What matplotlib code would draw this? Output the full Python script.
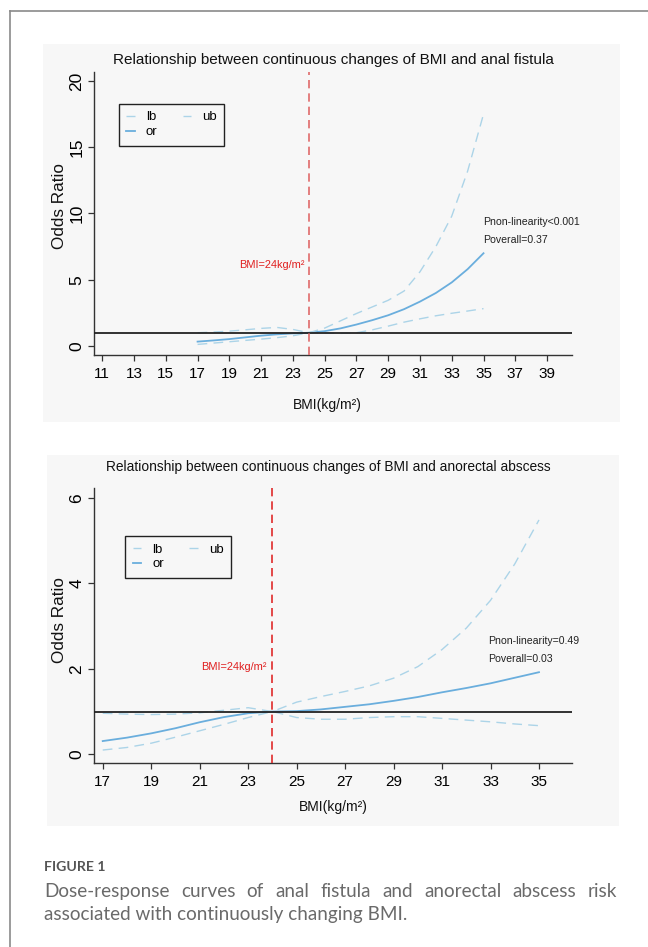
import matplotlib
matplotlib.use("Agg")
import matplotlib.pyplot as plt
from matplotlib.patches import Rectangle
from matplotlib.lines import Line2D

# ---------------- data ----------------
bmi = [17, 18, 19, 20, 21, 22, 23, 24, 25, 26, 27, 28, 29, 30, 31, 32, 33, 34, 35]

fistula_or = [0.33, 0.42, 0.52, 0.65, 0.78, 0.88, 0.95, 1.00, 1.12, 1.33, 1.62, 1.95,
              2.32, 2.78, 3.35, 4.00, 4.80, 5.80, 7.00]
fistula_ub = [1.00, 1.05, 1.12, 1.22, 1.33, 1.40, 1.25, 1.00, 1.35, 1.90, 2.45, 2.95,
              3.45, 4.15, 5.60, 7.50, 9.80, 13.2, 17.5]
fistula_lb = [0.12, 0.22, 0.32, 0.42, 0.52, 0.63, 0.77, 1.00, 0.98, 0.95, 1.00, 1.22,
              1.50, 1.80, 2.05, 2.28, 2.47, 2.64, 2.82]

abscess_or = [0.31, 0.39, 0.49, 0.61, 0.75, 0.87, 0.96, 1.00, 1.01, 1.05, 1.11, 1.17,
              1.25, 1.34, 1.45, 1.55, 1.66, 1.79, 1.92]
abscess_ub = [0.96, 0.94, 0.93, 0.94, 0.97, 1.03, 1.09, 1.00, 1.22, 1.35, 1.47, 1.60,
              1.78, 2.05, 2.45, 2.95, 3.60, 4.45, 5.48]
abscess_lb = [0.10, 0.16, 0.26, 0.40, 0.55, 0.70, 0.86, 1.00, 0.86, 0.82, 0.82, 0.86,
              0.88, 0.88, 0.84, 0.80, 0.76, 0.71, 0.67]

xticks1 = list(range(11, 40, 2))
yticks1 = [0, 5, 10, 15, 20]
xticks2 = list(range(17, 36, 2))
yticks2 = [0, 2, 4, 6]

titles = ["Relationship between continuous changes of BMI and anal fistula",
          "Relationship between continuous changes of BMI and anorectal abscess"]
p_texts = [["Pnon-linearity<0.001", "Poverall=0.37"],
           ["Pnon-linearity=0.49", "Poverall=0.03"]]
cut_label = "BMI=24kg/m\u00b2"
xlabel = "BMI(kg/m\u00b2)"
ylabel = "Odds Ratio"
fig_label = "FIGURE 1"
caption1 = "Dose-response curves of anal fistula and anorectal abscess risk"
caption2 = "associated with continuously changing BMI."

# ---------------- style ----------------
W, H = 648, 947
FONT = ["Liberation Sans", "DejaVu Sans"]
plt.rcParams["font.family"] = FONT
BG = "#f7f7f7"
C_OR = "#6aaedd"
C_CI = "#acd4e8"

fig = plt.figure(figsize=(W / 100, H / 100), dpi=100)
fig.patch.set_facecolor("white")

def fx(px):
    return px / W

def fy(py):
    return 1 - py / H

# page border (left and top)
fig.add_artist(Line2D([fx(9.5), fx(9.5)], [fy(11), 0], color="#8a8a8a", lw=1.2))
fig.add_artist(Line2D([fx(9.5), 1], [fy(11), fy(11)], color="#8a8a8a", lw=1.2))

# panel backgrounds
fig.add_artist(Rectangle((fx(43), fy(422)), fx(620) - fx(43), fy(44) - fy(422),
                         transform=fig.transFigure, facecolor=BG, edgecolor="none", zorder=0))
fig.add_artist(Rectangle((fx(47), fy(826)), fx(619) - fx(47), fy(455) - fy(826),
                         transform=fig.transFigure, facecolor=BG, edgecolor="none", zorder=0))

panels = [
    dict(box=(94, 72, 572, 355), xlim=(10.48, 40.57), ylim=(-0.68, 20.68),
         xticks=xticks1, yticks=yticks1, orv=fistula_or, ub=fistula_ub, lb=fistula_lb,
         title=titles[0], title_size=11, title_xy=(333, 60), xlabel_xy=(327, 405),
         ylabel_xy=(59, 206), cut_xy=(23.75, 6.1), p_xy=(34.95, 9.38, 8.0),
         leg=(0.052, 0.887), red="#e06a6a"),
    dict(box=(94, 488.3, 571.7, 763.3), xlim=(16.64, 36.35), ylim=(-0.21, 6.22),
         xticks=xticks2, yticks=yticks2, orv=abscess_or, ub=abscess_ub, lb=abscess_lb,
         title=titles[1], title_size=9.95, title_xy=(328, 467), xlabel_xy=(333, 807),
         ylabel_xy=(59, 620), cut_xy=(23.78, 2.04), p_xy=(32.9, 2.65, 2.22),
         leg=(0.0655, 0.8265), red="#e02a2a"),
]

for i, p in enumerate(panels):
    x0, y0, x1, y1 = p["box"]
    ax = fig.add_axes([fx(x0), fy(y1), fx(x1) - fx(x0), fy(y0) - fy(y1)])
    ax.set_facecolor(BG)
    ax.set_xlim(*p["xlim"])
    ax.set_ylim(*p["ylim"])
    for s in ["top", "right"]:
        ax.spines[s].set_visible(False)
    for s in ["left", "bottom"]:
        ax.spines[s].set_color("#333333")
        ax.spines[s].set_linewidth(1.0)
    ax.set_xticks(p["xticks"])
    ax.set_yticks(p["yticks"])
    ax.tick_params(axis="both", direction="out", length=4, width=0.9, color="#333333")
    ax.tick_params(axis="x", labelsize=11, pad=4.5)
    ax.tick_params(axis="y", labelsize=12.5, pad=3)
    for lab in ax.get_yticklabels():
        lab.set_rotation(90)
        lab.set_va("center")

    l_lb, = ax.plot(bmi, p["lb"], color=C_CI, lw=1.0, dashes=(7, 4.5), label="lb")
    l_or, = ax.plot(bmi, p["orv"], color=C_OR, lw=1.3, label="or")
    l_ub, = ax.plot(bmi, p["ub"], color=C_CI, lw=1.0, dashes=(7, 4.5), label="ub")
    ax.axhline(1, color="#222222", lw=1.3, zorder=3)
    ax.axvline(24, color=p["red"], lw=1.2, dashes=(5, 3), zorder=4)

    ax.text(p["cut_xy"][0], p["cut_xy"][1], cut_label, color="#e02020", fontsize=7.9,
            ha="right", va="center")
    ax.text(p["p_xy"][0], p["p_xy"][1], p_texts[i][0], color="#222222", fontsize=7.6,
            ha="left", va="center")
    ax.text(p["p_xy"][0], p["p_xy"][2], p_texts[i][1], color="#222222", fontsize=7.6,
            ha="left", va="center")

    leg = ax.legend(handles=[l_lb, l_or, l_ub], ncol=2, loc="upper left",
                    bbox_to_anchor=p["leg"], fontsize=9.5, frameon=True, fancybox=False,
                    edgecolor="#222222", facecolor=BG, framealpha=1, handlelength=0.65,
                    handletextpad=0.85, columnspacing=1.9, borderpad=0.55, labelspacing=0.2,
                    borderaxespad=0)
    leg.get_frame().set_linewidth(1.0)

    fig.text(fx(p["title_xy"][0]), fy(p["title_xy"][1]), p["title"], fontsize=p["title_size"],
             ha="center", va="center", color="#111111")
    fig.text(fx(p["xlabel_xy"][0]), fy(p["xlabel_xy"][1]), xlabel, fontsize=10,
             ha="center", va="center", color="#111111")
    fig.text(fx(p["ylabel_xy"][0]), fy(p["ylabel_xy"][1]), ylabel, fontsize=12.3,
             ha="center", va="center", rotation=90, color="#111111")

# caption
CAP_FONT = ["Lato", "DejaVu Sans"]
fig.text(fx(44), fy(867), fig_label, fontsize=10.2, fontweight="bold", color="#555555",
         family=CAP_FONT, ha="left", va="center")

renderer = fig.canvas.get_renderer()
words = caption1.split(" ")
left, right = 44, 617
wtexts = [fig.text(0, fy(891), w_, fontsize=13.6, color="#6a6a6a", family=CAP_FONT,
                   ha="left", va="center") for w_ in words]
widths = [t.get_window_extent(renderer).width for t in wtexts]
gap = ((right - left) - sum(widths)) / (len(words) - 1)
xpos = left
for t, wd in zip(wtexts, widths):
    t.set_x(fx(xpos))
    xpos += wd + gap
fig.text(fx(44), fy(914), caption2, fontsize=13.6, color="#6a6a6a", family=CAP_FONT,
         ha="left", va="center")

fig.savefig("out.png", dpi=100, facecolor="white")
